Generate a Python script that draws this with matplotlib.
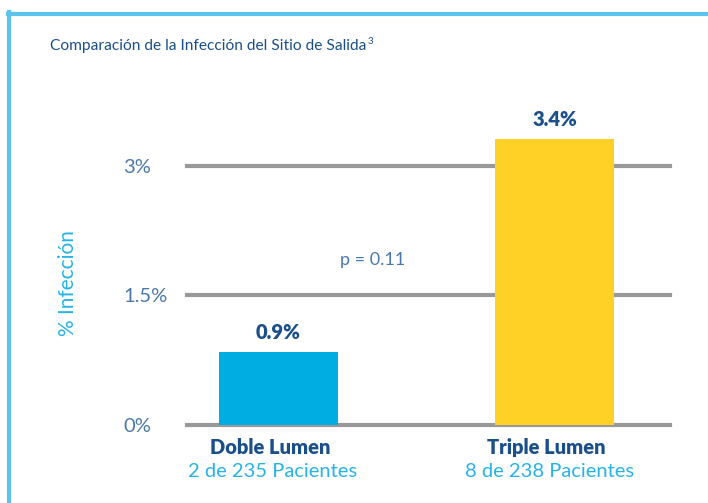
import matplotlib.pyplot as plt
from matplotlib.lines import Line2D

plt.rcParams['font.family'] = ['Lato', 'DejaVu Sans']

categories = ['Doble Lumen', 'Triple Lumen']
subtitles = ['2 de 235 Pacientes', '8 de 238 Pacientes']
values = [0.84, 3.31]
value_labels = ['0.9%', '3.4%']
colors = ['#00ADE3', '#FFD026']
yticks = [0, 1.5, 3]
ytick_labels = ['0%', '1.5%', '3%']

dark_blue = '#1B4F8A'
light_blue = '#27B3E6'
mid_blue = '#4A78AB'
grid_gray = '#999999'

W, H = 708, 503
fig = plt.figure(figsize=(W / 100, H / 100), dpi=100)

# frame lines top and left
fig.add_artist(Line2D([8 / W, 1], [1 - 13.5 / H] * 2, color='#5CC3EA', lw=3, transform=fig.transFigure))
fig.add_artist(Line2D([8.5 / W] * 2, [0, 1 - 12 / H], color='#5CC3EA', lw=3, transform=fig.transFigure))

title = fig.text(50 / W, 1 - 46 / H, 'Comparación de la Infección del Sitio de Salida',
                 color=dark_blue, fontsize=11.2, va='center', ha='left')
r = fig.canvas.get_renderer()
bb = title.get_window_extent(renderer=r)
fig.text(bb.x1 / W + 1 / W, 1 - 41 / H, '3', color=dark_blue, fontsize=7, va='center', ha='left')

ax_bottom, ax_top = 425, 110
ax = fig.add_axes([187 / W, 1 - ax_bottom / H, (670 - 187) / W, (ax_bottom - ax_top) / H])
ylim_top = (ax_bottom - ax_top) / 86.4
ax.set_ylim(0, ylim_top)
ax.set_xlim(-0.3315, 1.418)

for y in yticks:
    ax.axhline(y, color=grid_gray, lw=3, zorder=1, clip_on=False)

x = range(len(categories))
ax.bar(x, values, width=0.431, color=colors, zorder=2)

for i, v in enumerate(values):
    ax.text(i, v + 0.12, value_labels[i], ha='center', va='bottom',
            color=dark_blue, fontsize=14.5, fontweight='heavy')

for spine in ax.spines.values():
    spine.set_visible(False)
ax.set_xticks([])
ax.set_yticks(yticks)
ax.set_yticklabels(ytick_labels, color=mid_blue, fontsize=14.5, ha='left')
ax.tick_params(axis='y', length=0, pad=46)

for i, (c, s) in enumerate(zip(categories, subtitles)):
    ax.text(i - 0.03, -0.26, c, ha='center', va='center', color=dark_blue, fontsize=14.5, fontweight='heavy')
    ax.text(i - 0.02, -0.54, s, ha='center', va='center', color=light_blue, fontsize=14.5)

ax.text(0.34, (ax_bottom - 260) / 86.4, 'p = 0.11', ha='center', va='center', color=mid_blue, fontsize=13)

fig.text(68 / W, 1 - 283 / H, '% Infección', rotation=90, color=light_blue,
         fontsize=15, ha='center', va='center')

fig.savefig('out.png', dpi=100)
